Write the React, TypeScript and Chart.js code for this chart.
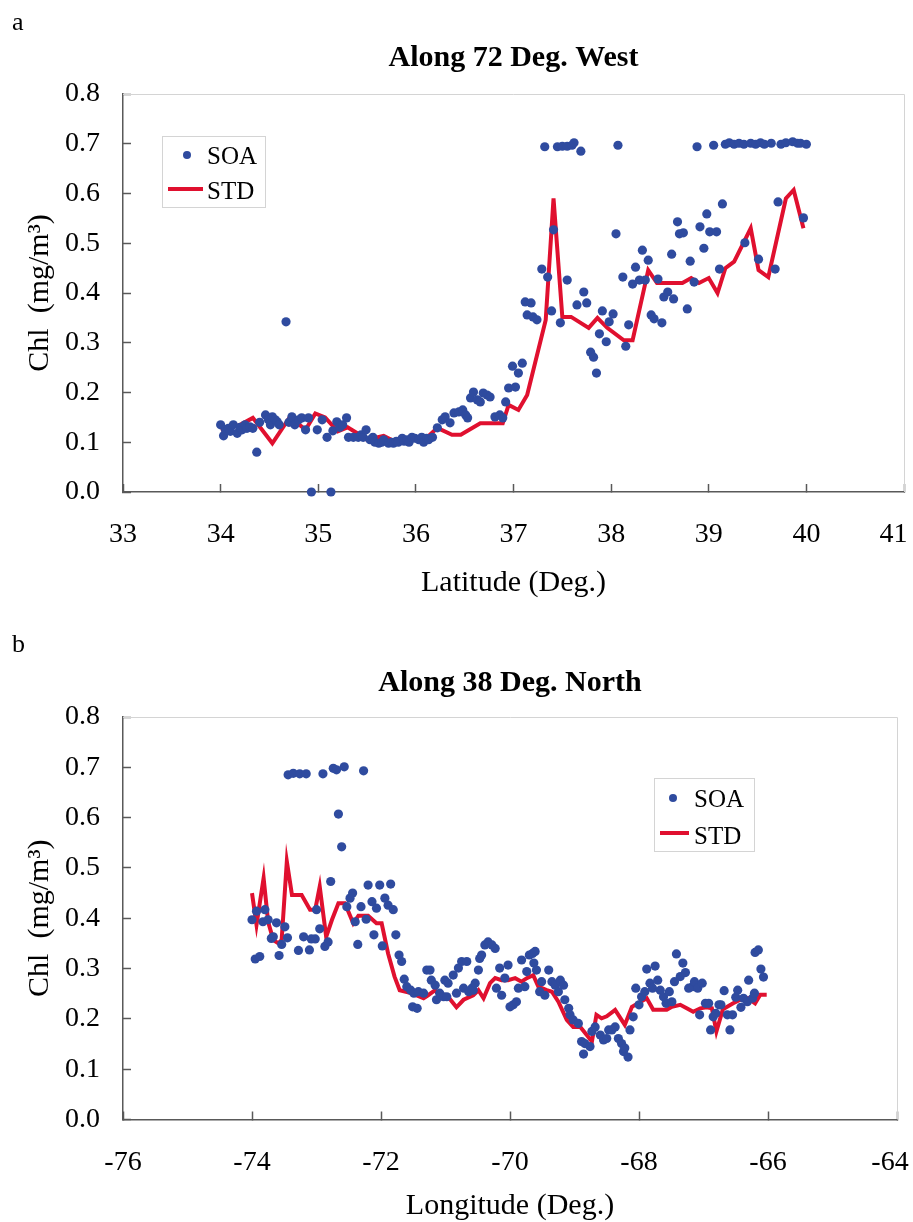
import React, { useEffect, useRef } from "react";
import { Chart, registerables } from "chart.js";

Chart.register(...registerables);

const FONT = '"Liberation Serif", "Times New Roman", serif';
const BLUE = "#2f4b9f";
const RED = "#e0102f";
const AXIS = "#595959";

// ---------- shared ----------
const yTicks = [0, 0.1, 0.2, 0.3, 0.4, 0.5, 0.6, 0.7, 0.8];

// ---------- Panel a: Along 72 Deg. West ----------
const aXTicks = [33, 34, 35, 36, 37, 38, 39, 40, 41];

const aSoaLat = [
  34.0, 34.03, 34.05, 34.08, 34.1, 34.13, 34.17, 34.2, 34.22, 34.25, 34.27, 34.3, 34.33, 34.37, 34.4, 34.46, 34.49, 34.51, 34.53, 34.56,
  34.58, 34.6, 34.67, 34.7, 34.73, 34.76, 34.8, 34.83, 34.87, 34.9, 34.93, 34.99, 35.04, 35.09, 35.13, 35.15, 35.19, 35.22, 35.25, 35.29,
  35.31, 35.36, 35.41, 35.44, 35.46, 35.49, 35.53, 35.56, 35.58, 35.62, 35.65, 35.67, 35.72, 35.75, 35.77, 35.8, 35.82, 35.86, 35.88, 35.91,
  35.93, 35.96, 35.99, 36.03, 36.06, 36.08, 36.11, 36.13, 36.17, 36.22, 36.27, 36.3, 36.35, 36.39, 36.44, 36.48, 36.51, 36.53, 36.56, 36.59,
  36.63, 36.66, 36.69, 36.73, 36.76, 36.81, 36.86, 36.89, 36.92, 36.95, 36.99, 37.02, 37.05, 37.09, 37.12, 37.14, 37.18, 37.2, 37.24, 37.29,
  37.32, 37.35, 37.39, 37.41, 37.45, 37.48, 37.5, 37.55, 37.55, 37.6, 37.62, 37.65, 37.69, 37.72, 37.75, 37.79, 37.82, 37.85, 37.88, 37.91,
  37.95, 37.98, 38.02, 38.05, 38.07, 38.12, 38.15, 38.18, 38.22, 38.25, 38.29, 38.32, 38.35, 38.38, 38.41, 38.44, 38.48, 38.52, 38.54, 38.58,
  38.62, 38.64, 38.68, 38.7, 38.74, 38.78, 38.81, 38.85, 38.88, 38.91, 38.95, 38.98, 39.01, 39.05, 39.08, 39.11, 39.14, 39.17, 39.21, 39.26,
  39.31, 39.36, 39.37, 39.43, 39.48, 39.51, 39.53, 39.57, 39.64, 39.68, 39.71, 39.74, 39.79, 39.86, 39.91, 39.94, 39.97, 40.0,
];
const aSoaChl = [
  0.135, 0.113, 0.125, 0.128, 0.122, 0.135, 0.118, 0.13, 0.125, 0.135, 0.128, 0.131, 0.128, 0.08, 0.14, 0.155, 0.145, 0.135, 0.151, 0.145,
  0.141, 0.135, 0.342, 0.14, 0.151, 0.135, 0.145, 0.149, 0.125, 0.149, 0.0, 0.125, 0.145, 0.11, 0.0, 0.123, 0.141, 0.13, 0.135, 0.149,
  0.11, 0.11, 0.11, 0.115, 0.11, 0.125, 0.105, 0.11, 0.1, 0.098, 0.1, 0.105, 0.098, 0.1, 0.098, 0.102, 0.1, 0.108, 0.102, 0.105,
  0.1, 0.11, 0.108, 0.105, 0.11, 0.1, 0.108, 0.105, 0.11, 0.129, 0.145, 0.151, 0.139, 0.159, 0.161, 0.165, 0.155, 0.149, 0.189, 0.201,
  0.185, 0.181, 0.199, 0.195, 0.191, 0.151, 0.155, 0.149, 0.181, 0.209, 0.253, 0.211, 0.239, 0.259, 0.382, 0.356, 0.38, 0.352, 0.346, 0.448,
  0.694, 0.432, 0.364, 0.527, 0.694, 0.34, 0.695, 0.695, 0.426, 0.697, 0.702, 0.376, 0.685, 0.402, 0.38, 0.281, 0.271, 0.239, 0.318, 0.364,
  0.302, 0.342, 0.358, 0.519, 0.697, 0.432, 0.293, 0.336, 0.418, 0.452, 0.426, 0.486, 0.426, 0.466, 0.356, 0.348, 0.428, 0.34, 0.392, 0.402,
  0.478, 0.388, 0.543, 0.519, 0.521, 0.368, 0.464, 0.422, 0.694, 0.533, 0.49, 0.559, 0.523, 0.697, 0.523, 0.448, 0.579, 0.699, 0.702, 0.699,
  0.701, 0.699, 0.501, 0.701, 0.699, 0.468, 0.702, 0.699, 0.701, 0.448, 0.583, 0.699, 0.702, 0.704, 0.701, 0.701, 0.551, 0.699,
];

const aStdLat = [
  34.0, 34.1, 34.2, 34.33, 34.53, 34.71, 34.87, 34.97, 35.07, 35.2, 35.3, 35.4, 35.5, 35.67, 35.8, 35.94, 36.1, 36.22, 36.37, 36.46,
  36.66, 36.89, 36.95, 37.05, 37.14, 37.33, 37.41, 37.5, 37.59, 37.77, 37.86, 37.96, 38.13, 38.22, 38.38, 38.47, 38.73, 38.82, 38.9, 39.0,
  39.09, 39.17, 39.26, 39.43, 39.51, 39.61, 39.79, 39.87, 39.97,
];
const aStdChl = [
  0.125, 0.13, 0.135, 0.149, 0.098, 0.151, 0.125, 0.158, 0.15, 0.122, 0.13, 0.118, 0.105, 0.113, 0.1, 0.105, 0.107, 0.129, 0.115, 0.115,
  0.138, 0.138, 0.175, 0.165, 0.195, 0.346, 0.59, 0.352, 0.352, 0.33, 0.35, 0.33, 0.305, 0.305, 0.446, 0.42, 0.42, 0.43, 0.42, 0.43,
  0.4, 0.45, 0.463, 0.53, 0.446, 0.432, 0.59, 0.607, 0.53,
];

// ---------- Panel b: Along 38 Deg. North ----------
const bXTicks = [-76, -74, -72, -70, -68, -66, -64];

const bSoaLon = [
  -74.0, -73.95, -73.93, -73.88, -73.83, -73.8, -73.75, -73.7, -73.67, -73.62, -73.58, -73.54, -73.49, -73.45, -73.44, -73.36, -73.28, -73.26, -73.2, -73.16,
  -73.11, -73.08, -73.02, -73.0, -72.95, -72.9, -72.87, -72.82, -72.78, -72.74, -72.69, -72.66, -72.61, -72.57, -72.53, -72.48, -72.44, -72.4, -72.36, -72.31,
  -72.27, -72.23, -72.2, -72.14, -72.11, -72.07, -72.02, -71.98, -71.94, -71.89, -71.85, -71.81, -71.77, -71.72, -71.68, -71.64, -71.6, -71.54, -71.51, -71.49,
  -71.44, -71.42, -71.34, -71.29, -71.24, -71.22, -71.16, -71.14, -71.09, -71.03, -71.01, -70.98, -70.96, -70.88, -70.83, -70.8, -70.75, -70.72, -70.67, -70.64,
  -70.59, -70.57, -70.54, -70.49, -70.47, -70.44, -70.39, -70.34, -70.28, -70.23, -70.21, -70.16, -70.13, -70.08, -70.03, -70.0, -69.95, -69.9, -69.87, -69.82,
  -69.77, -69.74, -69.7, -69.65, -69.61, -69.63, -69.59, -69.54, -69.51, -69.46, -69.4, -69.35, -69.3, -69.25, -69.22, -69.17, -69.15, -69.09, -69.07, -69.02,
  -68.94, -68.89, -68.86, -68.84, -68.76, -68.73, -68.68, -68.6, -68.55, -68.5, -68.47, -68.42, -68.37, -68.32, -68.27, -68.24, -68.22, -68.17, -68.14, -68.09,
  -68.05, -68.0, -67.96, -67.91, -67.88, -67.83, -67.79, -67.75, -67.71, -67.67, -67.62, -67.58, -67.53, -67.49, -67.45, -67.42, -67.36, -67.32, -67.28, -67.23,
  -67.17, -67.14, -67.09, -67.06, -67.02, -66.97, -66.92, -66.89, -66.85, -66.81, -66.76, -66.73, -66.68, -66.63, -66.59, -66.55, -66.5, -66.47, -66.42, -66.38,
  -66.32, -66.3, -66.24, -66.21, -66.2, -66.15, -66.11, -66.07,
];
const bSoaChl = [
  0.397, 0.319, 0.414, 0.324, 0.393, 0.417, 0.397, 0.36, 0.363, 0.391, 0.326, 0.348, 0.383, 0.361, 0.685, 0.688, 0.336, 0.687, 0.363, 0.687,
  0.337, 0.359, 0.359, 0.417, 0.379, 0.687, 0.344, 0.353, 0.473, 0.698, 0.695, 0.607, 0.542, 0.701, 0.423, 0.44, 0.45, 0.393, 0.348, 0.423,
  0.693, 0.398, 0.466, 0.433, 0.367, 0.42, 0.466, 0.345, 0.44, 0.426, 0.468, 0.417, 0.367, 0.327, 0.314, 0.279, 0.264, 0.257, 0.224, 0.251,
  0.221, 0.254, 0.251, 0.297, 0.297, 0.277, 0.267, 0.238, 0.251, 0.244, 0.277, 0.244, 0.271, 0.287, 0.251, 0.301, 0.314, 0.261, 0.314, 0.254,
  0.261, 0.257, 0.271, 0.297, 0.32, 0.327, 0.347, 0.353, 0.347, 0.34, 0.261, 0.301, 0.247, 0.281, 0.307, 0.224, 0.228, 0.234, 0.261, 0.317,
  0.264, 0.294, 0.327, 0.33, 0.334, 0.311, 0.297, 0.254, 0.274, 0.247, 0.297, 0.274, 0.267, 0.254, 0.277, 0.267, 0.238, 0.221, 0.208, 0.198,
  0.191, 0.155, 0.13, 0.151, 0.145, 0.175, 0.184, 0.168, 0.158, 0.161, 0.178, 0.178, 0.184, 0.161, 0.151, 0.135, 0.142, 0.124, 0.178, 0.204,
  0.261, 0.228, 0.244, 0.254, 0.299, 0.271, 0.261, 0.305, 0.277, 0.257, 0.244, 0.231, 0.254, 0.234, 0.274, 0.329, 0.284, 0.311, 0.292, 0.261,
  0.264, 0.274, 0.261, 0.208, 0.271, 0.231, 0.231, 0.178, 0.204, 0.211, 0.228, 0.228, 0.256, 0.208, 0.178, 0.208, 0.243, 0.257, 0.223, 0.241,
  0.234, 0.277, 0.241, 0.251, 0.332, 0.337, 0.299, 0.283,
];

const bStdLon = [
  -74.0, -73.93, -73.82, -73.75, -73.67, -73.59, -73.54, -73.46, -73.38, -73.23, -73.1, -73.02, -72.95, -72.85, -72.76, -72.66, -72.56, -72.43, -72.35, -72.2,
  -72.07, -71.99, -71.89, -71.79, -71.71, -71.55, -71.34, -71.27, -71.16, -71.06, -70.96, -70.83, -70.72, -70.57, -70.49, -70.41, -70.31, -70.23, -70.13, -70.03,
  -69.92, -69.82, -69.74, -69.64, -69.56, -69.43, -69.35, -69.25, -69.12, -69.02, -68.91, -68.81, -68.73, -68.66, -68.58, -68.5, -68.37, -68.22, -68.11, -67.88,
  -67.78, -67.57, -67.49, -67.36, -67.26, -67.16, -67.05, -66.95, -66.87, -66.8, -66.7, -66.54, -66.43, -66.31, -66.2, -66.12, -66.02,
];
const bStdChl = [
  0.45, 0.387, 0.48, 0.393, 0.357, 0.35, 0.357, 0.513, 0.446, 0.446, 0.417, 0.417, 0.463, 0.363, 0.397, 0.43, 0.43, 0.39, 0.405, 0.405,
  0.39, 0.39, 0.33, 0.284, 0.257, 0.252, 0.241, 0.247, 0.257, 0.241, 0.244, 0.223, 0.238, 0.247, 0.257, 0.241, 0.271, 0.281, 0.277, 0.277,
  0.281, 0.274, 0.281, 0.287, 0.264, 0.257, 0.254, 0.234, 0.198, 0.184, 0.184, 0.168, 0.155, 0.208, 0.201, 0.205, 0.218, 0.188, 0.224, 0.241,
  0.218, 0.218, 0.224, 0.228, 0.221, 0.214, 0.221, 0.223, 0.221, 0.175, 0.219, 0.231, 0.238, 0.241, 0.231, 0.248, 0.248,
];

type LegendBox = {
  x: number; y: number; w: number; h: number;
  dotX: number; dotY: number; lineX1: number; lineX2: number; lineY: number;
  textX: number; soaBase: number; stdBase: number;
};

type PanelSpec = {
  letter: string;
  letterBase: number;
  title: string;
  titlePadTop: number;
  titlePadBottom: number;
  xTitle: string;
  xTitlePadBottom: number;
  xMin: number;
  xMax: number;
  xTicks: number[];
  lastTickPad: string;
  soaX: number[];
  soaY: number[];
  stdX: number[];
  stdY: number[];
  height: number;
  plotBottom: number;
  padRight: number;
  legend: LegendBox;
};

const PANEL_A: PanelSpec = {
  letter: "a",
  letterBase: 30,
  title: "Along 72 Deg. West",
  titlePadTop: 43,
  titlePadBottom: 21,
  xTitle: "Latitude (Deg.)",
  xTitlePadBottom: 12,
  xMin: 33,
  xMax: 41,
  xTicks: aXTicks,
  lastTickPad: "\u00a0\u00a0\u00a0",
  soaX: aSoaLat,
  soaY: aSoaChl,
  stdX: aStdLat,
  stdY: aStdChl,
  height: 610,
  plotBottom: 492,
  padRight: 9,
  legend: { x: 162, y: 136, w: 103, h: 71, dotX: 187, dotY: 155, lineX1: 168, lineX2: 203, lineY: 189, textX: 207, soaBase: 164, stdBase: 199 },
};

const PANEL_B: PanelSpec = {
  letter: "b",
  letterBase: 42,
  title: "Along 38 Deg. North",
  titlePadTop: 58,
  titlePadBottom: 19,
  xTitle: "Longitude (Deg.)",
  xTitlePadBottom: 1,
  xMin: -76,
  xMax: -64,
  xTicks: bXTicks,
  lastTickPad: "\u00a0\u00a0",
  soaX: bSoaLon,
  soaY: bSoaChl,
  stdX: bStdLon,
  stdY: bStdChl,
  height: 612,
  plotBottom: 509.5,
  padRight: 16,
  legend: { x: 654, y: 168, w: 100, h: 73, dotX: 673, dotY: 188, lineX1: 660, lineX2: 689, lineY: 223, textX: 694, soaBase: 197, stdBase: 234 },
};

const WIDTH = 913;

function Panel({ spec, top }: { spec: PanelSpec; top: number }) {
  const ref = useRef<HTMLCanvasElement | null>(null);

  useEffect(() => {
    const canvas = ref.current;
    if (!canvas) return;

    const framePlugin = {
      id: "frame",
      beforeDatasetsDraw(chart: any) {
        const { ctx, chartArea } = chart;
        ctx.save();
        ctx.strokeStyle = "#d4d4d4";
        ctx.lineWidth = 1;
        ctx.beginPath();
        ctx.moveTo(chartArea.left, Math.round(chartArea.top) + 0.5);
        ctx.lineTo(Math.round(chartArea.right) + 0.5, Math.round(chartArea.top) + 0.5);
        ctx.lineTo(Math.round(chartArea.right) + 0.5, chartArea.bottom);
        ctx.stroke();
        ctx.restore();
      },
    };

    const decorPlugin = {
      id: "decor",
      afterDraw(chart: any) {
        const { ctx } = chart;
        const L = spec.legend;
        ctx.save();
        // panel letter
        ctx.fillStyle = "#000";
        ctx.font = `26px ${FONT}`;
        ctx.textBaseline = "alphabetic";
        ctx.textAlign = "left";
        ctx.fillText(spec.letter, 12, spec.letterBase);
        // legend box
        ctx.fillStyle = "#fff";
        ctx.fillRect(L.x, L.y, L.w, L.h);
        ctx.strokeStyle = "#d4d4d4";
        ctx.lineWidth = 1;
        ctx.strokeRect(L.x + 0.5, L.y + 0.5, L.w, L.h);
        const soa = chart.data.datasets[0];
        const std = chart.data.datasets[1];
        ctx.fillStyle = soa.backgroundColor;
        ctx.beginPath();
        ctx.arc(L.dotX, L.dotY, 4, 0, Math.PI * 2);
        ctx.fill();
        ctx.strokeStyle = std.borderColor;
        ctx.lineWidth = std.borderWidth;
        ctx.beginPath();
        ctx.moveTo(L.lineX1, L.lineY);
        ctx.lineTo(L.lineX2, L.lineY);
        ctx.stroke();
        ctx.fillStyle = "#000";
        ctx.font = `25px ${FONT}`;
        ctx.fillText(soa.label, L.textX, L.soaBase);
        ctx.fillText(std.label, L.textX, L.stdBase);
        ctx.restore();
      },
    };

    const soaData = spec.soaX.map((x, i) => ({ x, y: spec.soaY[i] }));
    const stdData = spec.stdX.map((x, i) => ({ x, y: spec.stdY[i] }));

    const tickFont = { family: FONT, size: 28 };
    const titleFont = { family: FONT, size: 30, lineHeight: 1 };
    const lastX = spec.xTicks[spec.xTicks.length - 1];

    const chart = new Chart(canvas, {
      type: "scatter",
      data: {
        datasets: [
          {
            label: "SOA",
            data: soaData,
            backgroundColor: BLUE,
            borderColor: BLUE,
            borderWidth: 0,
            pointRadius: 4.6,
            showLine: false,
            order: 0,
            clip: false,
          } as any,
          {
            label: "STD",
            type: "line",
            data: stdData,
            borderColor: RED,
            backgroundColor: RED,
            borderWidth: 4,
            pointRadius: 0,
            tension: 0,
            fill: false,
            order: 1,
          } as any,
        ],
      },
      options: {
        responsive: false,
        animation: false,
        devicePixelRatio: 1,
        layout: { padding: { left: 0, top: 0, right: spec.padRight, bottom: 0 } },
        plugins: {
          legend: { display: false },
          tooltip: { enabled: false },
          title: {
            display: true,
            text: spec.title,
            color: "#000",
            fullSize: false,
            font: { family: FONT, size: 30, weight: "bold", lineHeight: 1 },
            padding: { top: spec.titlePadTop, bottom: spec.titlePadBottom },
          },
        },
        scales: {
          x: {
            type: "linear",
            min: spec.xMin,
            max: spec.xMax,
            afterBuildTicks: (s: any) => {
              s.ticks = spec.xTicks.map((v) => ({ value: v }));
            },
            afterFit: (s: any) => {
              s.height = spec.height - spec.plotBottom;
              s.paddingLeft = 0;
              s.paddingRight = 0;
            },
            ticks: {
              font: tickFont,
              color: "#000",
              padding: 34,
              maxRotation: 0,
              autoSkip: false,
              callback: (v: any) => (v === lastX ? String(v) + spec.lastTickPad : String(v)),
            },
            grid: { drawOnChartArea: false, drawTicks: true, tickLength: -8, color: AXIS, tickWidth: 1.5 },
            border: { display: true, color: AXIS, width: 1.5 },
            title: {
              display: true,
              text: spec.xTitle,
              color: "#000",
              font: titleFont,
              padding: { top: 0, bottom: spec.xTitlePadBottom },
            },
          },
          y: {
            type: "linear",
            min: 0,
            max: 0.8,
            afterBuildTicks: (s: any) => {
              s.ticks = yTicks.map((v) => ({ value: v }));
            },
            afterFit: (s: any) => {
              s.width = 123;
              s.paddingTop = 0;
              s.paddingBottom = 0;
            },
            ticks: {
              font: tickFont,
              color: "#000",
              padding: 31,
              callback: (v: any) => Number(v).toFixed(1),
            },
            grid: { drawOnChartArea: false, drawTicks: true, tickLength: -8, color: AXIS, tickWidth: 1.5 },
            border: { display: true, color: AXIS, width: 1.5 },
            title: {
              display: true,
              text: "Chl  (mg/m\u00B3)",
              color: "#000",
              font: titleFont,
              padding: { top: 25, bottom: 0 },
            },
          },
        },
      } as any,
      plugins: [framePlugin, decorPlugin],
    });

    return () => chart.destroy();
  }, [spec]);

  return (
    <canvas
      ref={ref}
      width={WIDTH}
      height={spec.height}
      style={{ position: "absolute", left: 0, top, width: WIDTH, height: spec.height, display: "block" }}
    />
  );
}

export default function App() {
  return (
    <div style={{ position: "absolute", left: 0, top: 0, width: WIDTH, height: 1222, background: "#fff", overflow: "hidden" }}>
      <Panel spec={PANEL_A} top={0} />
      <Panel spec={PANEL_B} top={610} />
    </div>
  );
}
